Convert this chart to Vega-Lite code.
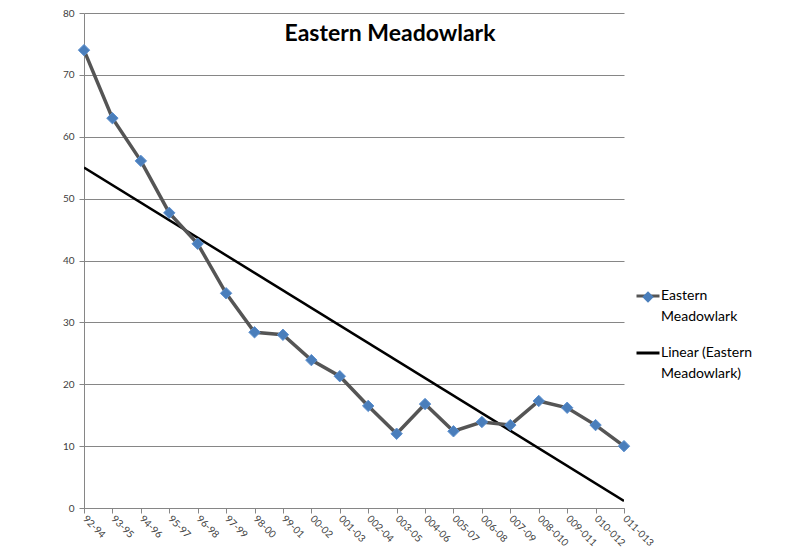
{
  "$schema": "https://vega.github.io/schema/vega-lite/v6.json",
  "width": 540,
  "height": 495,
  "autosize": "none",
  "padding": {"left": 84, "top": 13, "right": 178, "bottom": 45},
  "background": "white",
  "title": {
    "text": "Eastern Meadowlark",
    "font": "Lato",
    "fontSize": 23,
    "fontWeight": "bold",
    "color": "#000000",
    "anchor": "middle",
    "dx": 36,
    "offset": -38
  },
  "data": {
    "values": [
      {"period": "92-94", "i": 1, "count": 74.0},
      {"period": "93-95", "i": 2, "count": 63.0},
      {"period": "94-96", "i": 3, "count": 56.1},
      {"period": "95-97", "i": 4, "count": 47.7},
      {"period": "96-98", "i": 5, "count": 42.7},
      {"period": "97-99", "i": 6, "count": 34.7},
      {"period": "98-00", "i": 7, "count": 28.4},
      {"period": "99-01", "i": 8, "count": 28.0},
      {"period": "00-02", "i": 9, "count": 23.9},
      {"period": "001-03", "i": 10, "count": 21.3},
      {"period": "002-04", "i": 11, "count": 16.5},
      {"period": "003-05", "i": 12, "count": 12.0},
      {"period": "004-06", "i": 13, "count": 16.8},
      {"period": "005-07", "i": 14, "count": 12.4},
      {"period": "006-08", "i": 15, "count": 13.9},
      {"period": "007-09", "i": 16, "count": 13.4},
      {"period": "008-010", "i": 17, "count": 17.3},
      {"period": "009-011", "i": 18, "count": 16.2},
      {"period": "010-012", "i": 19, "count": 13.4},
      {"period": "011-013", "i": 20, "count": 10.0}
    ]
  },
  "config": {
    "view": {"stroke": null},
    "axis": {
      "labelFont": "Lato",
      "labelColor": "#404040",
      "domainColor": "#868686",
      "tickColor": "#868686",
      "gridColor": "#868686",
      "gridWidth": 1,
      "domainWidth": 1,
      "tickSize": 5
    }
  },
  "resolve": {"scale": {"x": "independent"}, "axis": {"x": "independent"}},
  "layer": [
    {
      "transform": [
        {"regression": "count", "on": "i", "method": "linear", "extent": [1, 20]},
        {"calculate": "'Linear (Eastern Meadowlark)'", "as": "series"}
      ],
      "mark": {"type": "line", "strokeWidth": 2.5, "clip": true},
      "encoding": {
        "x": {
          "field": "i",
          "type": "quantitative",
          "scale": {"domain": [1, 20], "nice": false, "zero": false},
          "axis": null
        },
        "y": {"field": "count", "type": "quantitative"},
        "stroke": {
          "field": "series",
          "type": "nominal",
          "scale": {
            "domain": ["Eastern Meadowlark", "Linear (Eastern Meadowlark)"],
            "range": ["#555555", "#000000"]
          },
          "legend": {
            "orient": "none",
            "legendX": 551,
            "legendY": 270,
            "title": null,
            "padding": 0,
            "symbolType": "stroke",
            "symbolSize": 529,
            "symbolStrokeWidth": 3,
            "labelFont": "Lato",
            "labelFontSize": 14,
            "labelColor": "#000000",
            "labelOffset": 0,
            "labelLimit": 200,
            "labelBaseline": "top",
            "rowPadding": 16,
            "labelExpr": "datum.label == 'Eastern Meadowlark' ? ['Eastern', 'Meadowlark'] : ['Linear (Eastern', 'Meadowlark)']",
            "encode": {
              "labels": {
                "update": {"dy": {"value": -7}, "lineHeight": {"value": 21}}
              }
            }
          }
        }
      }
    },
    {
      "transform": [{"calculate": "'Eastern Meadowlark'", "as": "series"}],
      "layer": [
        {
          "mark": {"type": "line", "strokeWidth": 3.5},
          "encoding": {
            "x": {
              "field": "period",
              "type": "ordinal",
              "sort": null,
              "scale": {"type": "point", "padding": 0},
              "axis": {
                "title": null,
                "labelAngle": 45,
                "labelAlign": "left",
                "labelBaseline": "middle",
                "labelFontSize": 10,
                "labelPadding": 4,
                "labelOverlap": false
              }
            },
            "y": {
              "field": "count",
              "type": "quantitative",
              "scale": {"domain": [0, 80], "nice": false},
              "axis": {
                "title": null,
                "values": [0, 10, 20, 30, 40, 50, 60, 70, 80],
                "labelFontSize": 10,
                "labelPadding": 5,
                "grid": true
              }
            },
            "stroke": {"field": "series", "type": "nominal"}
          }
        },
        {
          "mark": {"type": "point", "shape": "diamond", "filled": true, "size": 130, "stroke": "#5b8fcf", "strokeWidth": 1, "opacity": 1},
          "encoding": {
            "x": {"field": "period", "type": "ordinal", "sort": null},
            "y": {"field": "count", "type": "quantitative"},
            "fill": {
              "field": "series",
              "type": "nominal",
              "scale": {"domain": ["Eastern Meadowlark"], "range": ["#4a7ebb"]},
              "legend": {
                "orient": "none",
                "legendX": 557,
                "legendY": 277,
                "title": null,
                "padding": 0,
                "symbolType": "diamond",
                "symbolSize": 130,
                "symbolStrokeWidth": 0,
                "labelExpr": "''",
                "labelFontSize": 14,
                "labelBaseline": "top"
              }
            }
          }
        }
      ]
    }
  ]
}
